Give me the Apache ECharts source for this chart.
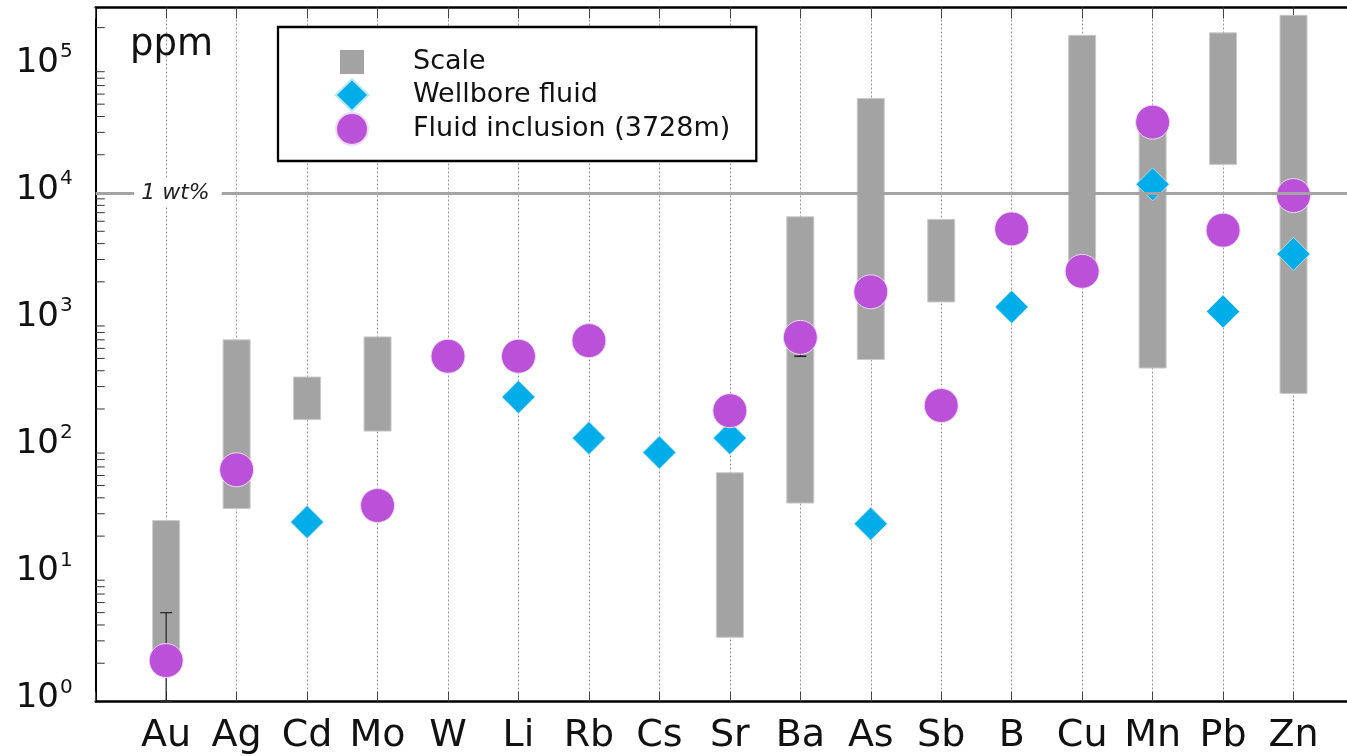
<!DOCTYPE html>
<html><head><meta charset="utf-8">
<script src="https://cdn.jsdelivr.net/npm/echarts@6/dist/echarts.min.js"></script>
<style>html,body{margin:0;padding:0;background:#fff}#c{width:1347px;height:756px}</style>
</head><body><div id="c"></div>
<script>
// ---- data (ppm) ----
const elements  = ['Au','Ag','Cd','Mo','W','Li','Rb','Cs','Sr','Ba','As','Sb','B','Cu','Mn','Pb','Zn'];
const scaleLow  = [2.2, 33, 165, 134, null, null, null, null, 3.2, 36.4, 490, 1390, null, 2500, 420, 16800, 265];
const scaleHigh = [26.5, 700, 357, 738, null, null, null, null, 63, 6500, 55500, 6200, null, 174000, 35000, 182000, 250000];
const wellbore  = [null, null, 25.8, null, null, 248, 118, 91, 118, null, 25, null, 1270, null, 11700, 1170, 3320];
const inclusion = [2.1, 66.5, null, 34.8, 520, 520, 690, null, 194, 732, 1670, 213, 5220, 2420, 36100, 5100, 9550];
const errLow    = [1, null, null, null, null, null, null, null, null, 520, null, null, null, null, null, null, null];
const errHigh   = [5, null, null, null, null, null, null, null, null, 732, null, null, null, null, null, null, null];
const yDecades  = [1, 10, 100, 1000, 10000, 100000];
const yMinorMultipliers = [2, 3, 4, 5, 6, 7, 8, 9];
const wtLineValue = 10000;
const wtLineLabel = '1 wt%';
const yMin = 1, yMax = 288000;

const FONT = 'DejaVu Sans';
const xCats = [' '].concat(elements, ['  ']);

const rangeData = [], wellData = [], inclData = [], errData = [];
elements.forEach((e, i) => {
  if (scaleLow[i] != null) rangeData.push([e, scaleLow[i], scaleHigh[i]]);
  if (wellbore[i] != null) wellData.push([e, wellbore[i]]);
  if (inclusion[i] != null) inclData.push([e, inclusion[i]]);
  if (errLow[i] != null) errData.push([e, errLow[i], errHigh[i]]);
});
const minorData = [];
yDecades.forEach(d => yMinorMultipliers.forEach(m => { if (d * m <= yMax) minorData.push([0, d * m]); }));

const chart = echarts.init(document.getElementById('c'), null, {renderer: 'canvas'});
chart.setOption({
  animation: false,
  backgroundColor: '#fff',
  textStyle: {fontFamily: FONT},
  title: {
    text: 'ppm', left: 125, top: 22,
    textStyle: {fontSize: 37, fontWeight: 'normal', color: '#111', fontFamily: FONT}
  },
  grid: {left: 95.7, top: 7.5, bottom: 54.5, right: -17, containLabel: false, outerBoundsMode: 'none'},
  legend: {
    orient: 'vertical', left: 278, top: 27,
    padding: [19, 26, 15, 56.5],
    borderColor: '#000', borderWidth: 2.3, backgroundColor: '#fff',
    itemWidth: 33, itemHeight: 32, itemGap: 0,
    textStyle: {fontSize: 27, color: '#111', fontFamily: FONT, padding: [3, 0, 0, 39.5]},
    data: [
      {name: 'Scale', icon: 'path://M0,0L0,0M33,32L33,32M4.5,4L28.5,4L28.5,28L4.5,28Z'},
      {name: 'Wellbore fluid', icon: 'diamond'},
      {name: 'Fluid inclusion (3728m)', icon: 'circle'}
    ]
  },
  xAxis: [{
    type: 'category', data: xCats, boundaryGap: false, position: 'bottom',
    axisLine: {lineStyle: {color: '#000', width: 2.5}},
    axisTick: {inside: true, length: 10, interval: 0, lineStyle: {color: '#444', width: 1}},
    axisLabel: {fontSize: 38, color: '#111', margin: 16, interval: 0, fontFamily: FONT},
    splitLine: {show: true, interval: 0, lineStyle: {color: '#9a9a9a', type: [2, 2], width: 1}}
  }, {
    type: 'category', data: xCats, boundaryGap: false, position: 'top',
    axisLine: {lineStyle: {color: '#000', width: 2.5}},
    axisTick: {inside: true, length: 11, interval: 0, lineStyle: {color: '#444', width: 1}},
    axisLabel: {show: false}, splitLine: {show: false}
  }],
  yAxis: {
    type: 'log', logBase: 10, min: yMin, max: yMax,
    axisLine: {show: true, lineStyle: {color: '#000', width: 2}},
    axisTick: {inside: true, length: 12, lineStyle: {color: '#333', width: 1}},
    splitLine: {show: false},
    axisLabel: {
      margin: 23, color: '#111', padding: [0, 0, 12, 0],
      formatter: function (v) {
        const l = Math.log10(v), r = Math.round(l);
        if (Math.abs(l - r) > 1e-6) return '';
        return '{b|10}{s|' + r + '}';
      },
      rich: {
        b: {fontSize: 34, lineHeight: 40, fontFamily: FONT, color: '#111', verticalAlign: 'bottom'},
        s: {fontSize: 20, lineHeight: 40, fontFamily: FONT, color: '#111', verticalAlign: 'top', padding: [2, 0, 0, 1]}
      }
    }
  },
  series: [
    {
      name: 'Scale', type: 'custom', z: 1,
      itemStyle: {color: '#a3a3a3'},
      renderItem: function (params, api) {
        const c = api.value(0);
        const pHi = api.coord([c, api.value(2)]);
        const pLo = api.coord([c, api.value(1)]);
        const w = 27;
        return {type: 'rect', shape: {x: pHi[0] - w / 2, y: pHi[1], width: w, height: pLo[1] - pHi[1]},
          style: {fill: '#a3a3a3', stroke: '#cacaca', lineWidth: 1}};
      },
      encode: {x: 0, y: [1, 2]},
      data: rangeData
    },
    {
      name: 'minorTicks', type: 'custom', z: 5, silent: true,
      renderItem: function (params, api) {
        const p = api.coord([api.value(0), api.value(1)]);
        return {type: 'line', shape: {x1: p[0], y1: p[1], x2: p[0] + 9, y2: p[1]},
          style: {stroke: '#333', lineWidth: 1}};
      },
      encode: {x: 0, y: 1},
      data: minorData
    },
    {
      name: 'wtLine', type: 'line', data: [], z: 2, silent: true,
      markLine: {
        silent: true, symbol: 'none', animation: false,
        lineStyle: {color: '#a3a3a3', width: 3, type: 'solid'},
        label: {
          show: true, position: 'start', formatter: wtLineLabel, distance: -126,
          fontSize: 22, fontStyle: 'italic', color: '#222', fontFamily: FONT,
          backgroundColor: '#fff', padding: [3, 12, 3, 7]
        },
        data: [{yAxis: wtLineValue}]
      }
    },
    {
      name: 'errors', type: 'custom', z: 2, silent: true,
      renderItem: function (params, api) {
        const c = api.value(0);
        const pHi = api.coord([c, api.value(2)]);
        const pLo = api.coord([c, api.value(1)]);
        const cap = 6;
        return {type: 'group', children: [
          {type: 'line', shape: {x1: pHi[0], y1: pHi[1], x2: pLo[0], y2: pLo[1]}, style: {stroke: '#222', lineWidth: 1.2}},
          {type: 'line', shape: {x1: pHi[0] - cap, y1: pHi[1], x2: pHi[0] + cap, y2: pHi[1]}, style: {stroke: '#222', lineWidth: 1.2}},
          {type: 'line', shape: {x1: pLo[0] - cap, y1: pLo[1], x2: pLo[0] + cap, y2: pLo[1]}, style: {stroke: '#222', lineWidth: 1.6}}
        ]};
      },
      encode: {x: 0, y: [1, 2]},
      data: errData
    },
    {
      name: 'Wellbore fluid', type: 'scatter', z: 3,
      symbol: 'diamond', symbolSize: 33,
      itemStyle: {color: '#00ade8', borderColor: '#bfe9f8', borderWidth: 0.8, opacity: 1},
      data: wellData
    },
    {
      name: 'Fluid inclusion (3728m)', type: 'scatter', z: 4,
      symbol: 'circle', symbolSize: 34,
      itemStyle: {color: '#bb51d8', borderColor: '#ecdcf2', borderWidth: 1, opacity: 1},
      data: inclData
    }
  ]
});
</script>
</body></html>
